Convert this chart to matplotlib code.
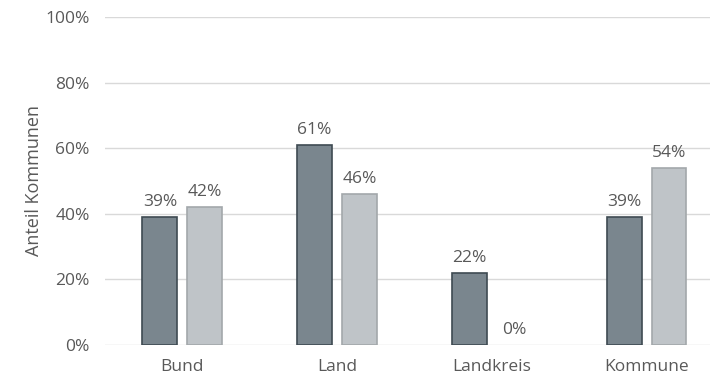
import matplotlib.pyplot as plt
import numpy as np
from matplotlib.ticker import PercentFormatter

categories = ['Bund', 'Land', 'Landkreis', 'Kommune']
series_a = [39, 61, 22, 39]
series_b = [42, 46, 0, 54]
labels_a = ['39%', '61%', '22%', '39%']
labels_b = ['42%', '46%', '0%', '54%']

plt.rcParams['font.family'] = ['Open Sans', 'DejaVu Sans']
text_color = '#595959'

fig = plt.figure(figsize=(7.16, 3.79), dpi=100)
ax = fig.add_axes([105 / 716, 1 - 345 / 379, 605 / 716, (345 - 17) / 379])

x = np.arange(len(categories))
w = 0.226
off = 0.145
bars_a = ax.bar(x - off, series_a, w, color='#7a868e', edgecolor='#3e4a52', linewidth=1.2, zorder=3)
bars_b = ax.bar(x + off, series_b, w, color='#bfc4c8', edgecolor='#a3a8ab',
                linewidth=[1.2 if v > 0 else 0 for v in series_b], zorder=3)

for bars, labels in [(bars_a, labels_a), (bars_b, labels_b)]:
    for b, lab in zip(bars, labels):
        ax.annotate(lab, (b.get_x() + b.get_width() / 2, b.get_height()),
                    xytext=(0, 5), textcoords='offset points', ha='center', va='bottom',
                    fontsize=12.5, color=text_color)

ax.set_ylim(0, 100)
ax.set_xlim(-0.5, 3.41)
ax.set_yticks(range(0, 101, 20))
ax.yaxis.set_major_formatter(PercentFormatter(decimals=0))
ax.set_xticks(x)
ax.set_xticklabels(categories)
ax.grid(axis='y', color='#d9d9d9', linewidth=1, zorder=0)
for s in ax.spines.values():
    s.set_visible(False)
ax.tick_params(length=0, colors=text_color, labelsize=12.5)
ax.tick_params(axis='y', pad=11)
ax.tick_params(axis='x', pad=10)
ax.set_ylabel('Anteil Kommunen', fontsize=13, color=text_color, labelpad=2)

fig.savefig('out.png', dpi=100)
